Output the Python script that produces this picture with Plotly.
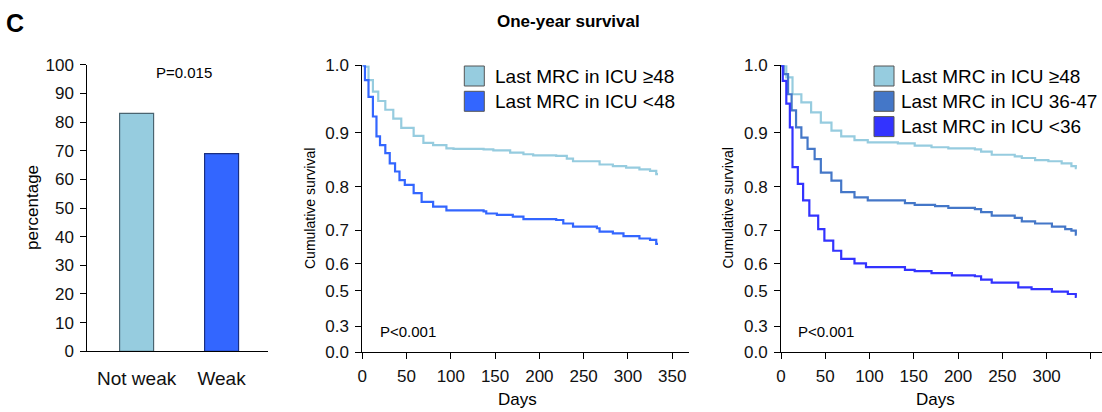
import numpy as np
import plotly.graph_objects as go

W, H = 1102, 412

# ---------------- data ----------------
bar_categories = ["Not weak", "Weak"]
bar_values = [83, 69]

# custom (non-linear) survival axis: tick labels and their relative positions
surv_ticks = [0.0, 0.3, 0.5, 0.6, 0.7, 0.8, 0.9, 1.0]
surv_tick_pos = [0.0, 0.0907, 0.214, 0.307, 0.4255, 0.577, 0.765, 1.0]

days_ticks = [0, 50, 100, 150, 200, 250, 300, 350]

# Middle panel: MRC >=48 vs <48
mid_ge48_days = [0, 2, 3, 7, 12, 18, 26, 35, 44, 58, 69, 80, 95, 103, 137, 148, 167, 182, 193,
                 219, 231, 238, 253, 268, 283, 298, 313, 325, 332, 334]
mid_ge48_surv = [1.0, 1.0, 0.998, 0.978, 0.961, 0.947, 0.934, 0.921, 0.907, 0.894, 0.881, 0.877,
                 0.871, 0.870, 0.869, 0.867, 0.863, 0.860, 0.858, 0.857, 0.852, 0.847, 0.847,
                 0.841, 0.838, 0.835, 0.832, 0.829, 0.823, 0.823]
mid_lt48_days = [0, 2, 3, 7, 12, 16, 20, 26, 31, 37, 42, 48, 58, 67, 80, 95, 137, 140, 152, 170,
                 182, 219, 227, 238, 265, 268, 283, 295, 313, 325, 332, 334]
mid_lt48_surv = [1.0, 1.0, 0.978, 0.953, 0.924, 0.893, 0.877, 0.862, 0.843, 0.828, 0.812, 0.803,
                 0.785, 0.765, 0.754, 0.745, 0.743, 0.738, 0.735, 0.731, 0.725, 0.723, 0.715,
                 0.708, 0.704, 0.695, 0.690, 0.682, 0.675, 0.671, 0.659, 0.659]

# Right panel: MRC >=48, 36-47, <36
r_ge48_days = [0, 2, 6, 13, 23, 34, 45, 57, 68, 83, 98, 132, 151, 170, 189, 219, 226, 238, 264,
               272, 287, 302, 317, 328, 333, 334]
r_ge48_surv = [1.0, 1.0, 0.982, 0.957, 0.945, 0.930, 0.915, 0.903, 0.893, 0.886, 0.882, 0.880,
               0.876, 0.873, 0.871, 0.869, 0.865, 0.859, 0.856, 0.853, 0.849, 0.847, 0.843,
               0.838, 0.834, 0.834]
r_3647_days = [0, 1, 3, 8, 12, 17, 23, 30, 38, 45, 57, 68, 83, 98, 140, 151, 174, 189, 219, 226,
               238, 264, 272, 287, 306, 321, 328, 333, 334]
r_3647_surv = [1.0, 1.0, 0.987, 0.957, 0.933, 0.908, 0.891, 0.870, 0.851, 0.826, 0.811, 0.787,
               0.775, 0.768, 0.762, 0.758, 0.755, 0.751, 0.748, 0.741, 0.733, 0.728, 0.720,
               0.715, 0.708, 0.702, 0.698, 0.686, 0.686]
r_lt36_days = [0, 1, 2, 6, 10, 13, 19, 25, 32, 42, 49, 59, 68, 83, 96, 140, 151, 170, 193, 219,
               226, 238, 268, 283, 306, 324, 333, 334]
r_lt36_surv = [1.0, 1.0, 0.977, 0.943, 0.908, 0.836, 0.805, 0.768, 0.733, 0.702, 0.669, 0.639,
               0.615, 0.602, 0.588, 0.578, 0.573, 0.566, 0.557, 0.554, 0.541, 0.530, 0.512,
               0.506, 0.494, 0.481, 0.465, 0.465]

# ---------------- styles ----------------
C_LIGHT = "#96CCDF"
C_BLUE48 = "#3366FF"
C_STEEL = "#4477C8"
C_BLUE36 = "#3333FF"
FONT = "Liberation Sans, Arial, sans-serif"


def sx(px):
    return px / W


def sy(py):
    return 1 - py / H


def surv_to_axis(v):
    return np.interp(np.asarray(v, dtype=float), surv_ticks, surv_tick_pos)


fig = go.Figure()

# ---- Bar panel ----
fig.add_trace(go.Bar(
    x=bar_categories, y=bar_values, width=0.4,
    marker=dict(color=[C_LIGHT, C_BLUE48],
                line=dict(color=["#4A6470", "#1A2F80"], width=1.2)),
    xaxis="x", yaxis="y", showlegend=False,
))

# ---- Middle KM ----
for d, s, c in [(mid_ge48_days, mid_ge48_surv, C_LIGHT), (mid_lt48_days, mid_lt48_surv, C_BLUE48)]:
    fig.add_trace(go.Scatter(x=d, y=surv_to_axis(s), mode="lines", line=dict(color=c, width=2.2, shape="hv"),
                             xaxis="x2", yaxis="y2", showlegend=False))

# ---- Right KM ----
for d, s, c in [(r_ge48_days, r_ge48_surv, C_LIGHT), (r_3647_days, r_3647_surv, C_STEEL),
                (r_lt36_days, r_lt36_surv, C_BLUE36)]:
    fig.add_trace(go.Scatter(x=d, y=surv_to_axis(s), mode="lines", line=dict(color=c, width=2.2, shape="hv"),
                             xaxis="x3", yaxis="y3", showlegend=False))

tickfont = dict(family=FONT, size=17, color="#111")
axis_common = dict(showline=True, linecolor="black", linewidth=1, ticks="outside", tickcolor="black",
                   showgrid=False, zeroline=False, tickfont=tickfont, automargin=False)

surv_axis = dict(axis_common, range=[0, 1], tickmode="array", tickvals=surv_tick_pos,
                 ticktext=[f"{t:.1f}" for t in surv_ticks], ticklen=6, ticklabelstandoff=3)

fig.update_layout(
    width=W, height=H, margin=dict(l=0, r=0, t=0, b=0, autoexpand=False),
    paper_bgcolor="white", plot_bgcolor="white",
    font=dict(family=FONT, color="#111"),
    xaxis=dict(axis_common, domain=[sx(87.3), sx(268.3)], range=[-0.58, 1.55], ticks="",
               tickfont=dict(family=FONT, size=19, color="#111"), ticklabelstandoff=10, anchor="y"),
    yaxis=dict(axis_common, domain=[sy(351.3), sy(64.7)], range=[0, 100], tickvals=list(range(0, 101, 10)),
               ticklen=6, ticklabelstandoff=3, anchor="x"),
    xaxis2=dict(axis_common, domain=[sx(362.3), sx(689)], range=[0, 369], tickvals=days_ticks, ticklen=6,
                ticklabelstandoff=3, anchor="y2"),
    yaxis2=dict(surv_axis, domain=[sy(352), sy(65.3)], anchor="x2"),
    xaxis3=dict(axis_common, domain=[sx(781), sx(1101.5)], range=[0, 362], tickvals=days_ticks, ticklen=6,
                ticklabelstandoff=3, anchor="y3"),
    yaxis3=dict(surv_axis, domain=[sy(352), sy(65.3)], anchor="x3"),
)

ann = []


def text(x, y, t, size=16, bold=False, angle=0, xanchor="center"):
    ann.append(dict(x=sx(x), y=sy(y), xref="paper", yref="paper", text=f"<b>{t}</b>" if bold else t,
                    showarrow=False, xanchor=xanchor, yanchor="middle", textangle=angle,
                    font=dict(family=FONT, size=size, color="black")))


text(15, 23, "C", size=25, bold=True)
text(568, 22, "One-year survival", size=17, bold=True)
text(183.5, 72, "P=0.015", size=15)
text(32, 208, "percentage", size=17, angle=-90)
text(310, 209, "Cumulative survival", size=14, angle=-90)
text(727.5, 208, "Cumulative survival", size=14, angle=-90)
text(517, 399, "Days", size=17)
text(935, 399, "Days", size=17)
text(407.7, 331.5, "P<0.001", size=15)
text(826, 331.5, "P<0.001", size=15)

shapes = []
legend_mid = [("Last MRC in ICU ≥48", C_LIGHT), ("Last MRC in ICU <48", C_BLUE48)]
legend_right = [("Last MRC in ICU ≥48", C_LIGHT), ("Last MRC in ICU 36-47", C_STEEL),
                ("Last MRC in ICU <36", C_BLUE36)]
for (x0, tx, items) in [(464.3, 492.5, legend_mid), (874, 899, legend_right)]:
    for i, (lab, col) in enumerate(items):
        top = 66 + i * 25.3
        shapes.append(dict(type="rect", xref="paper", yref="paper", x0=sx(x0), x1=sx(x0 + 20),
                           y0=sy(top + 20), y1=sy(top), fillcolor=col, line=dict(color="#555", width=1)))
        text(tx, top + 10, lab, size=19, xanchor="left")

fig.update_layout(annotations=ann, shapes=shapes)
fig.write_html("out.html", config={"displayModeBar": False},
               post_script="document.body.style.margin='0';document.body.style.overflow='hidden';")
